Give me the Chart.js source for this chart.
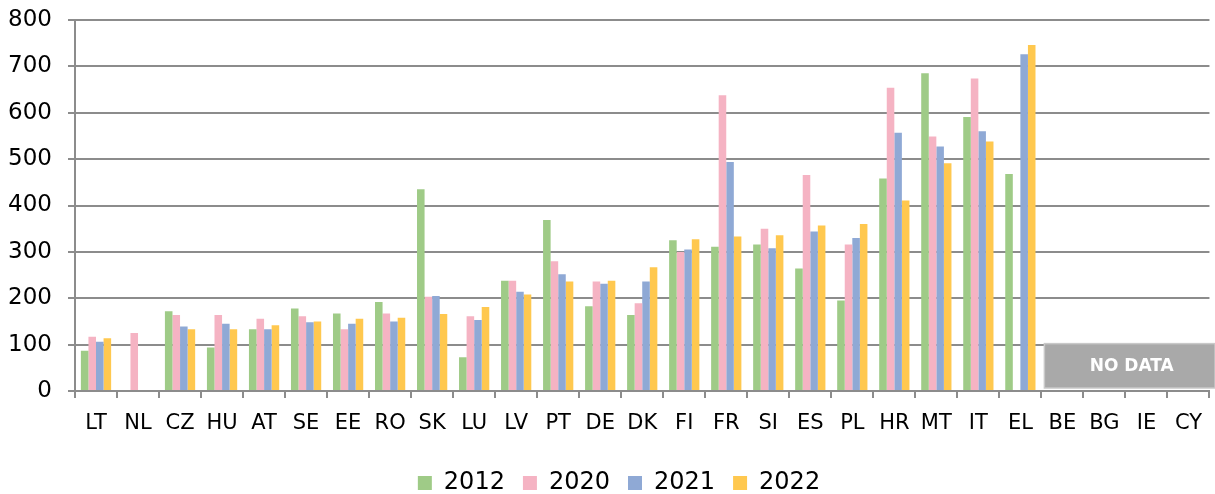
<!DOCTYPE html>
<html>
<head>
<meta charset="utf-8">
<script src="https://cdn.jsdelivr.net/npm/chart.js@4"></script>
<style>
  html, body { margin: 0; padding: 0; background: #fff; }
  #wrap { width: 1215px; height: 494px; }
</style>
</head>
<body>
<div id="wrap"><canvas id="chart"></canvas></div>
<script>
const countries = ['LT', 'NL', 'CZ', 'HU', 'AT', 'SE', 'EE', 'RO', 'SK', 'LU', 'LV', 'PT', 'DE', 'DK', 'FI', 'FR', 'SI', 'ES', 'PL', 'HR', 'MT', 'IT', 'EL', 'BE', 'BG', 'IE', 'CY'];
const values2012 = [87, null, 172, 94, 133, 178, 167, 192, 435, 73, 238, 369, 183, 164, 325, 311, 316, 264, 195, 458, 685, 591, 468, null, null, null, null];
const values2020 = [117, 125, 164, 164, 156, 161, 133, 167, 203, 161, 238, 280, 236, 189, 300, 638, 350, 466, 316, 654, 549, 674, null, null, null, null, null];
const values2021 = [106, null, 139, 145, 133, 148, 145, 150, 205, 153, 214, 252, 231, 236, 305, 494, 308, 344, 330, 557, 527, 560, 726, null, null, null, null];
const values2022 = [114, null, 133, 133, 142, 150, 156, 158, 166, 181, 208, 236, 238, 267, 327, 333, 336, 357, 360, 411, 491, 538, 746, null, null, null, null];
const noDataCountries = ['BE', 'BG', 'IE', 'CY'];
const noDataTop = 100;

const FONT = 'DejaVu Sans, Verdana, sans-serif';
const GRID = '#8c8c8c';

// grey "NO DATA" box over the countries without values
const noDataBox = {
  id: 'noDataBox',
  afterLayout(chart) {
    // legend sits a little right of centre in the original
    chart.legend.left += 10;
    chart.legend.right += 10;
  },
  afterDatasetsDraw(chart) {
    const { ctx, scales: { x, y } } = chart;
    const first = countries.indexOf(noDataCountries[0]);
    const half = (x.getPixelForValue(1) - x.getPixelForValue(0)) / 2;
    const left = x.getPixelForValue(first) - half + 3;
    const right = chart.width;
    const top = y.getPixelForValue(noDataTop) - 1;
    const bottom = y.getPixelForValue(0) - 3;
    ctx.save();
    ctx.fillStyle = '#a9a9a9';
    ctx.fillRect(left, top, right - left, bottom - top);
    ctx.strokeStyle = '#c9c9c9';
    ctx.lineWidth = 1.5;
    ctx.strokeRect(left, top, right - left, bottom - top);
    ctx.fillStyle = '#fff';
    ctx.font = 'bold 17px ' + FONT;
    ctx.textAlign = 'center';
    ctx.textBaseline = 'middle';
    ctx.fillText('NO DATA', (left + right) / 2 + 2, (top + bottom) / 2 + 1);
    ctx.restore();
  },
};

new Chart(document.getElementById('chart'), {
  type: 'bar',
  data: {
    labels: countries,
    datasets: [
      { label: '2012', data: values2012, backgroundColor: '#9fcb87' },
      { label: '2020', data: values2020, backgroundColor: '#f5b3c3' },
      { label: '2021', data: values2021, backgroundColor: '#8fa9d5' },
      { label: '2022', data: values2022, backgroundColor: '#ffc84f' },
    ],
  },
  options: {
    responsive: true,
    maintainAspectRatio: false,
    animation: false,
    datasets: { bar: { categoryPercentage: 0.72, barPercentage: 1, borderWidth: 0 } },
    layout: { padding: { top: 20, right: -3, left: 0, bottom: -11 } },
    scales: {
      x: {
        ticks: { color: '#000', font: { family: FONT, size: 21 }, padding: 13, maxRotation: 0, autoSkip: false },
        grid: { drawOnChartArea: false, drawTicks: true, tickLength: 7, color: GRID, lineWidth: 2 },
        border: { color: GRID, width: 2 },
        afterFit(scale) { scale.height = 62; },
      },
      y: {
        min: 0,
        max: 800,
        ticks: { stepSize: 100, color: '#000', font: { family: FONT, size: 23 }, padding: 16 },
        grid: { color: GRID, lineWidth: 2, tickLength: 7 },
        border: { color: GRID, width: 2 },
        afterFit(scale) {
          scale.width = 75;
          scale.paddingTop = 0;
          scale.paddingBottom = 0;
        },
      },
    },
    plugins: {
      legend: {
        position: 'bottom',
        labels: { color: '#000', font: { family: FONT, size: 24 }, boxWidth: 14, boxHeight: 14, padding: 18 },
      },
      tooltip: { enabled: false },
    },
  },
  plugins: [noDataBox],
});
</script>
</body>
</html>
